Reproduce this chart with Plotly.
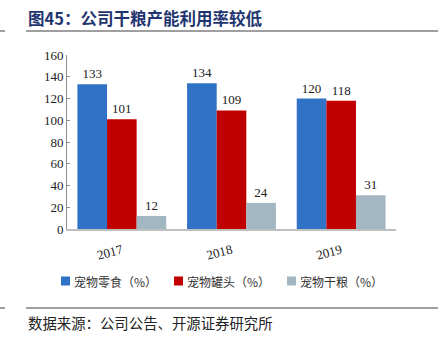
import plotly.graph_objects as go

# ---- data ----
categories = ["2017", "2018", "2019"]
series_names = ["宠物零食（%）", "宠物罐头（%）", "宠物干粮（%）"]
snack_values = [133, 134, 120]
can_values = [101, 109, 118]
dry_values = [12, 24, 31]
y_ticks = [0, 20, 40, 60, 80, 100, 120, 140, 160]

title_text = "图45：公司干粮产能利用率较低"
source_text = "数据来源：公司公告、开源证券研究所"

colors = ["#2F72C6", "#C00000", "#A3B7C3"]
all_values = [snack_values, can_values, dry_values]

W, H = 442, 343
L, R, T, B = 67, 46, 55, 114
pw, ph = W - L - R, H - T - B

def px_x(x):
    return (x - L) / pw

def px_y(y):
    return (H - B - y) / ph

num_font = "Liberation Serif"
cjk_font = "Noto Sans CJK SC"

fig = go.Figure()
for name, vals, col in zip(series_names, all_values, colors):
    fig.add_trace(go.Bar(
        x=categories, y=vals, name=name,
        marker=dict(color=col, line=dict(width=0)),
        text=[str(v) for v in vals], textposition="outside",
        textfont=dict(family=num_font, size=13, color="#222222"),
        cliponaxis=False, showlegend=False,
    ))

shapes = []
annotations = []

# title and rules
annotations.append(dict(
    text="<b>" + title_text + "</b>", xref="paper", yref="paper",
    x=px_x(26), y=px_y(18), xanchor="left", yanchor="middle",
    showarrow=False, font=dict(family=cjk_font, size=16.5, color="#1F3570"),
))
for yy in (31, 308):
    shapes.append(dict(type="line", xref="paper", yref="paper",
                       x0=px_x(26), x1=px_x(438), y0=px_y(yy), y1=px_y(yy),
                       line=dict(color="#7F7F7F", width=1.5)))
    shapes.append(dict(type="line", xref="paper", yref="paper",
                       x0=px_x(0), x1=px_x(5), y0=px_y(yy), y1=px_y(yy),
                       line=dict(color="#7F7F7F", width=1.5)))

annotations.append(dict(
    text=source_text, xref="paper", yref="paper",
    x=px_x(26), y=px_y(322), xanchor="left", yanchor="middle",
    showarrow=False, font=dict(family=cjk_font, size=14.4, color="#222222"),
))

# legend (manual, built from series names/colors)
for i, (name, col) in enumerate(zip(series_names, colors)):
    x0 = 61 + 113 * i
    shapes.append(dict(type="rect", xref="paper", yref="paper",
                       x0=px_x(x0), x1=px_x(x0 + 9),
                       y0=px_y(285.5), y1=px_y(276.5),
                       fillcolor=col, line=dict(width=0)))
    annotations.append(dict(
        text=name, xref="paper", yref="paper",
        x=px_x(x0 + 11), y=px_y(281), xanchor="left", yanchor="middle",
        showarrow=False, font=dict(family=cjk_font, size=12, color="#333333"),
    ))

fig.update_layout(
    width=W, height=H,
    margin=dict(l=L, r=R, t=T, b=B, pad=0),
    paper_bgcolor="white", plot_bgcolor="white",
    barmode="group", bargap=0.19, bargroupgap=0,
    shapes=shapes, annotations=annotations,
    showlegend=False,
    xaxis=dict(
        showgrid=False, showline=True, linecolor="#BFBFBF", linewidth=1.5,
        ticks="", tickangle=-15, ticklabelstandoff=7,
        tickfont=dict(family=num_font, size=13, color="#222222"),
    ),
    yaxis=dict(
        range=[0, 160], tickvals=y_ticks, showgrid=False, zeroline=False,
        showline=True, linecolor="#8C8C8C", linewidth=1,
        ticks="inside", ticklen=3, tickcolor="#8C8C8C",
        tickfont=dict(family=num_font, size=13, color="#222222"),
    ),
)

fig.write_html("out.html")
